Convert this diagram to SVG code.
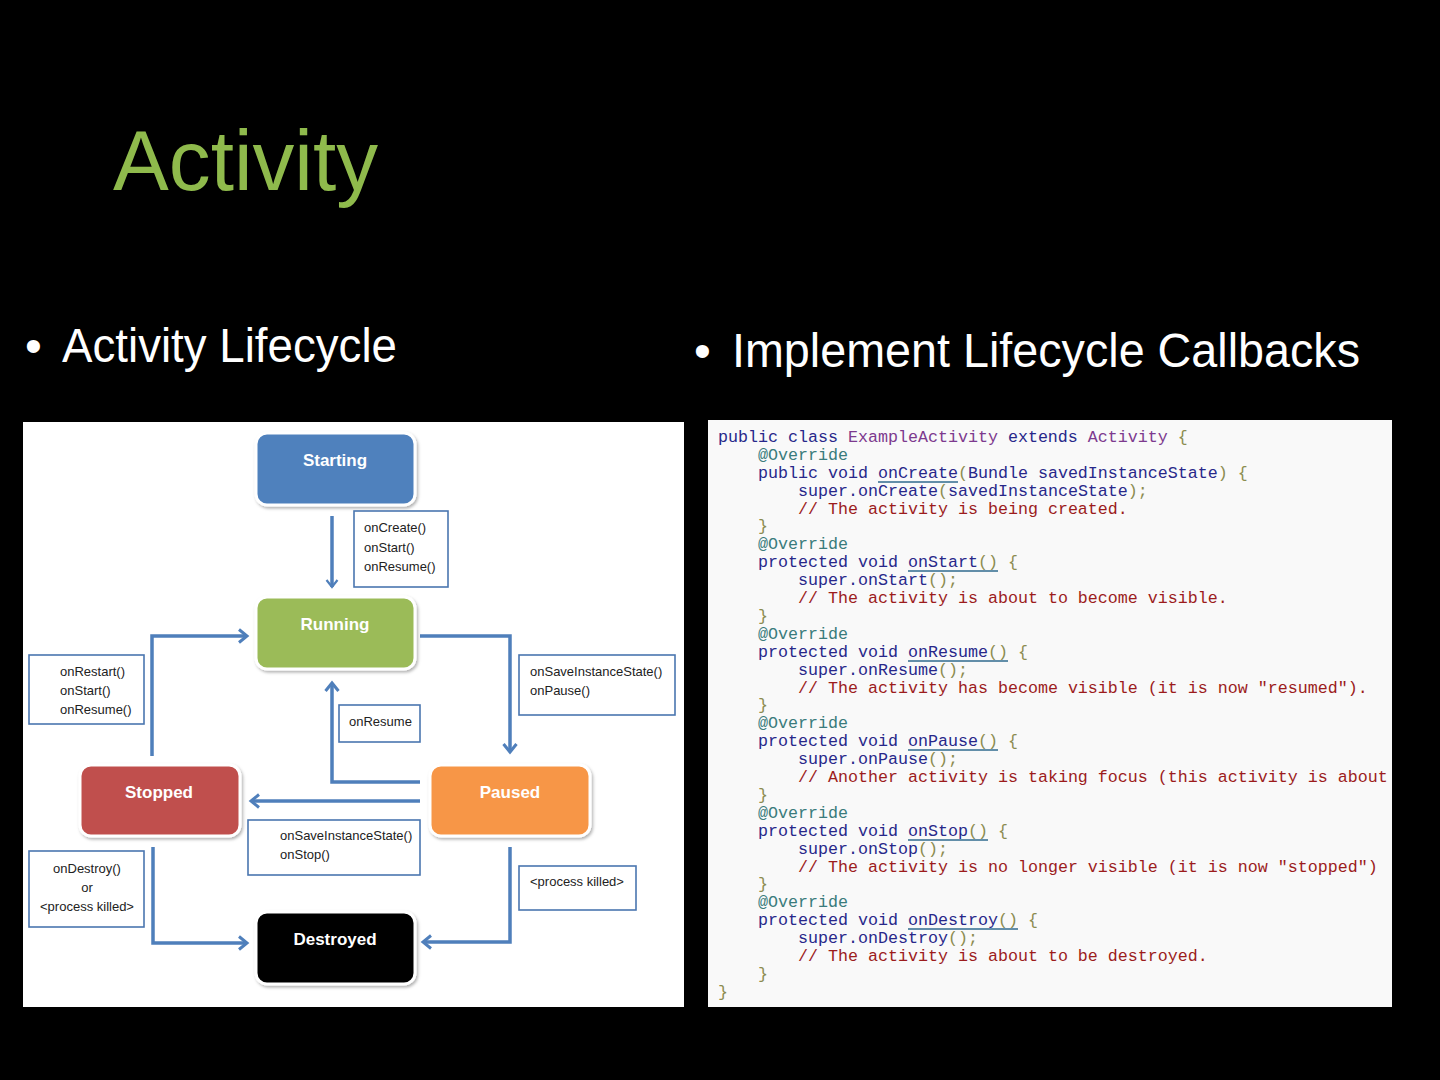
<svg xmlns="http://www.w3.org/2000/svg" width="1440" height="1080" viewBox="0 0 1440 1080">
<style>
.title{font-family:"Liberation Sans",Arial,sans-serif;font-size:86px;fill:#8fba4c}
.bul{font-family:"Liberation Sans",Arial,sans-serif;font-size:48px;fill:#ffffff}
.nt{font-family:"Liberation Sans",Arial,sans-serif;font-size:17px;font-weight:bold;fill:#ffffff;text-anchor:middle}
.lb{font-family:"Liberation Sans",Arial,sans-serif;font-size:13px;fill:#222222}
.lbox{fill:#ffffff;stroke:#4a76b0;stroke-width:1.6}
.node{stroke:#ffffff;stroke-width:3}
.conn{fill:none;stroke:#4f7fbb;stroke-width:3.5}
.code{font-family:"Liberation Mono","Courier New",monospace;font-size:16.67px;fill:#28288a}
.kw{fill:#28288a}.cls{fill:#7d3a8e}.ann{fill:#3a7c7c}.p{fill:#8c8c50}.cm{fill:#9c1c1c}
.ul{stroke:#2f6a8e;stroke-width:1.3}
</style>
<defs>
<marker id="arr" markerWidth="14" markerHeight="16" refX="11" refY="8" orient="auto" markerUnits="userSpaceOnUse">
<path d="M3,1.5 L11,8 L3,14.5" fill="none" stroke="#4f7fbb" stroke-width="3"/>
</marker>
<marker id="arrs" markerWidth="12" markerHeight="14" refX="9" refY="7" orient="auto" markerUnits="userSpaceOnUse">
<path d="M2,1.5 L9,7 L2,12.5" fill="none" stroke="#4f7fbb" stroke-width="2.2"/>
</marker>
<filter id="sh" x="-10%" y="-10%" width="125%" height="130%">
<feDropShadow dx="1.5" dy="2" stdDeviation="1.5" flood-color="#000000" flood-opacity="0.3"/>
</filter>
</defs>
<rect x="0" y="0" width="1440" height="1080" fill="#000000"/>
<text class="title" x="113" y="190" textLength="265" lengthAdjust="spacingAndGlyphs">Activity</text>
<text class="bul" x="25" y="362">•</text>
<text class="bul" x="62" y="362" textLength="335" lengthAdjust="spacingAndGlyphs">Activity Lifecycle</text>
<text class="bul" x="694" y="367">•</text>
<text class="bul" x="732" y="367" textLength="628" lengthAdjust="spacingAndGlyphs">Implement Lifecycle Callbacks</text>

<rect x="23" y="422" width="661" height="585" fill="#ffffff"/>

<g id="connectors">
<line class="conn" x1="332" y1="516" x2="332" y2="587" stroke-width="2.2" marker-end="url(#arrs)"/>
<polyline class="conn" points="152,756 152,636 247,636" marker-end="url(#arr)"/>
<polyline class="conn" points="420,636 510,636 510,752" marker-end="url(#arr)"/>
<polyline class="conn" points="420,782 332,782 332,683" marker-end="url(#arr)"/>
<polyline class="conn" points="420,801 251,801" marker-end="url(#arr)"/>
<polyline class="conn" points="153,847 153,943 247,943" marker-end="url(#arr)"/>
<polyline class="conn" points="510,847 510,942 423,942" marker-end="url(#arr)"/>
</g>

<g id="node-starting"><rect class="node" x="256" y="433" width="159" height="72" rx="11" fill="#4f81bd" filter="url(#sh)"/><text class="nt" x="335" y="466">Starting</text></g>
<g id="node-running"><rect class="node" x="256" y="597" width="159" height="72" rx="11" fill="#9bbb59" filter="url(#sh)"/><text class="nt" x="335" y="630">Running</text></g>
<g id="node-stopped"><rect class="node" x="80" y="765" width="160" height="71" rx="11" fill="#c0504d" filter="url(#sh)"/><text class="nt" x="159" y="798">Stopped</text></g>
<g id="node-paused"><rect class="node" x="430" y="765" width="160" height="71" rx="11" fill="#f79646" filter="url(#sh)"/><text class="nt" x="510" y="798">Paused</text></g>
<g id="node-destroyed"><rect class="node" x="256" y="912" width="159" height="72" rx="11" fill="#000000" filter="url(#sh)"/><text class="nt" x="335" y="945">Destroyed</text></g>

<g id="label-create"><rect class="lbox" x="354" y="511" width="94" height="76"/><text class="lb" x="364" y="532">onCreate()</text><text class="lb" x="364" y="552">onStart()</text><text class="lb" x="364" y="571">onResume()</text></g>
<g id="label-restart"><rect class="lbox" x="29" y="655" width="115" height="69"/><text class="lb" x="60" y="676">onRestart()</text><text class="lb" x="60" y="695">onStart()</text><text class="lb" x="60" y="714">onResume()</text></g>
<g id="label-pause"><rect class="lbox" x="519" y="655" width="156" height="60"/><text class="lb" x="530" y="676">onSaveInstanceState()</text><text class="lb" x="530" y="695">onPause()</text></g>
<g id="label-resume"><rect class="lbox" x="339" y="705" width="81" height="37"/><text class="lb" x="349" y="726">onResume</text></g>
<g id="label-stop"><rect class="lbox" x="248" y="820" width="172" height="55"/><text class="lb" x="280" y="840">onSaveInstanceState()</text><text class="lb" x="280" y="859">onStop()</text></g>
<g id="label-destroy"><rect class="lbox" x="29" y="851" width="115" height="76"/><text class="lb" x="87" y="873" text-anchor="middle">onDestroy()</text><text class="lb" x="87" y="892" text-anchor="middle">or</text><text class="lb" x="87" y="911" text-anchor="middle">&lt;process killed&gt;</text></g>
<g id="label-killed"><rect class="lbox" x="519" y="866" width="117" height="44"/><text class="lb" x="530" y="886">&lt;process killed&gt;</text></g>

<rect x="708" y="420" width="684" height="587" fill="#f9f9f9"/>
<g xml:space="preserve">
<text class="code" x="718" y="442"><tspan class="kw">public class </tspan><tspan class="cls">ExampleActivity </tspan><tspan class="kw">extends </tspan><tspan class="cls">Activity </tspan><tspan class="p">{</tspan></text>
<text class="code ann" x="758" y="460">@Override</text>
<text class="code" x="758" y="478"><tspan class="kw">public void onCreate</tspan><tspan class="p">(</tspan>Bundle savedInstanceState<tspan class="p">) {</tspan></text>
<text class="code" x="798" y="496">super.onCreate<tspan class="p">(</tspan>savedInstanceState<tspan class="p">);</tspan></text>
<text class="code cm" x="798" y="514">// The activity is being created.</text>
<text class="code p" x="758" y="531">}</text>
<text class="code ann" x="758" y="549">@Override</text>
<text class="code" x="758" y="567">protected void onStart<tspan class="p">() {</tspan></text>
<text class="code" x="798" y="585">super.onStart<tspan class="p">();</tspan></text>
<text class="code cm" x="798" y="603">// The activity is about to become visible.</text>
<text class="code p" x="758" y="621">}</text>
<text class="code ann" x="758" y="639">@Override</text>
<text class="code" x="758" y="657">protected void onResume<tspan class="p">() {</tspan></text>
<text class="code" x="798" y="675">super.onResume<tspan class="p">();</tspan></text>
<text class="code cm" x="798" y="693">// The activity has become visible (it is now "resumed").</text>
<text class="code p" x="758" y="710">}</text>
<text class="code ann" x="758" y="728">@Override</text>
<text class="code" x="758" y="746">protected void onPause<tspan class="p">() {</tspan></text>
<text class="code" x="798" y="764">super.onPause<tspan class="p">();</tspan></text>
<text class="code cm" x="798" y="782">// Another activity is taking focus (this activity is about</text>
<text class="code p" x="758" y="800">}</text>
<text class="code ann" x="758" y="818">@Override</text>
<text class="code" x="758" y="836">protected void onStop<tspan class="p">() {</tspan></text>
<text class="code" x="798" y="854">super.onStop<tspan class="p">();</tspan></text>
<text class="code cm" x="798" y="872">// The activity is no longer visible (it is now "stopped")</text>
<text class="code p" x="758" y="889">}</text>
<text class="code ann" x="758" y="907">@Override</text>
<text class="code" x="758" y="925">protected void onDestroy<tspan class="p">() {</tspan></text>
<text class="code" x="798" y="943">super.onDestroy<tspan class="p">();</tspan></text>
<text class="code cm" x="798" y="961">// The activity is about to be destroyed.</text>
<text class="code p" x="758" y="979">}</text>
<text class="code p" x="718" y="997">}</text>
<line class="ul" x1="878" y1="482" x2="958" y2="482"/>
<line class="ul" x1="908" y1="571" x2="998" y2="571"/>
<line class="ul" x1="908" y1="661" x2="1008" y2="661"/>
<line class="ul" x1="908" y1="750" x2="998" y2="750"/>
<line class="ul" x1="908" y1="840" x2="988" y2="840"/>
<line class="ul" x1="908" y1="929" x2="1018" y2="929"/>
</g>
</svg>
